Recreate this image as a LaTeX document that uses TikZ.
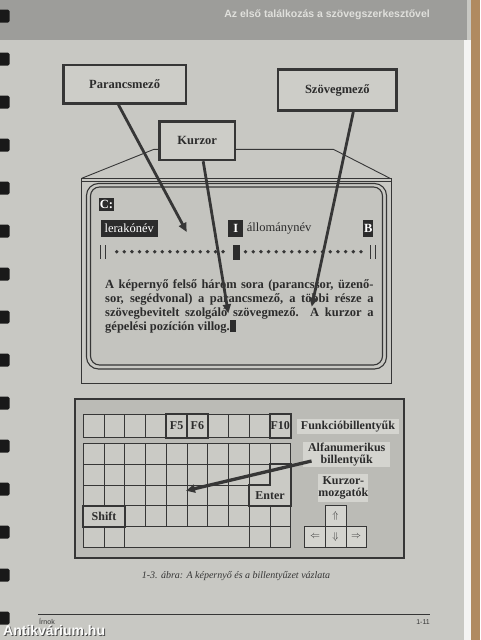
\documentclass[tikz,border=0pt]{standalone}
\usepackage{fontspec}
\setmainfont{Liberation Serif}
\newfontfamily\hdrfont{Liberation Sans}
\usetikzlibrary{arrows.meta}
\definecolor{pagec}{HTML}{C8C8C3}
\definecolor{bandc}{HTML}{9D9D9A}
\definecolor{boxc}{HTML}{CDCDC8}
\definecolor{inkc}{HTML}{363636}
\definecolor{facec}{HTML}{C9C9C4}
\definecolor{screenc}{HTML}{C4C4BF}
\definecolor{panelc}{HTML}{BBBBB6}
\definecolor{cellc}{HTML}{CACAC5}
\definecolor{lblc}{HTML}{D4D4CF}
\definecolor{darkc}{HTML}{2C2C2C}
\definecolor{woodc}{HTML}{B08A60}
\definecolor{hdrtxt}{HTML}{E0E0DC}
\begin{document}
\begin{tikzpicture}[x=1pt,y=-1pt,
  labelbox/.style={draw=inkc, line width=2.6pt, fill=boxc, inner sep=0pt,
    font=\bfseries\fontsize{12.5}{14}\selectfont, text=darkc},
  pointer/.style={draw=inkc, line width=2.8pt, -{Triangle[length=9pt,width=8pt]}},
  invbox/.style={fill=darkc, text=white, inner sep=0.5pt, font=\fontsize{12.5}{14}\selectfont},
  cell/.style={draw=inkc, line width=0.7pt, fill=cellc},
  keythick/.style={draw=inkc, line width=2pt, fill=cellc, inner sep=0pt,
    minimum width=20.74pt, font=\bfseries\fontsize{12}{14}\selectfont, text=darkc},
  kblabel/.style={fill=lblc, inner sep=0pt, font=\bfseries\fontsize{12}{11.8}\selectfont,
    text=darkc, align=center},
  arrowkey/.style={draw=inkc, line width=0.6pt, fill=lblc, inner sep=0pt,
    minimum width=20.7pt, minimum height=20.7pt, text=inkc}]
\useasboundingbox (0,0) rectangle (480,640);
\fill[pagec] (0,0) rectangle (480,640);
% header band
\fill[bandc] (0,0) rectangle (467,40);
\node[anchor=east, inner sep=0pt, text=hdrtxt, font=\hdrfont\bfseries\fontsize{10.5}{12}\selectfont]
  (hdr) at (430,14.5) {Az első találkozás a szövegszerkesztővel};
% right edge
\fill[white!80!pagec] (464,40) rectangle (471,640);
\fill[woodc] (471,0) rectangle (480,640);
% spiral holes
\foreach \k in {0,...,14} {
  \fill[black!90, rounded corners=1.5pt] (-2,{16+43*\k-6.5}) rectangle (9.5,{16+43*\k+6.5});
}
% monitor
\draw[inkc, line width=0.9pt] (81.7,178.3) -- (154,149.3) -- (333.3,149.3) -- (390,178.3);
\draw[inkc, line width=0.9pt, fill=facec] (81.7,178.3) rectangle (391.7,383.3);
\draw[inkc, line width=0.8pt] (82,181.7) -- (391.4,181.7);
\draw[inkc, line width=1.1pt, rounded corners=12pt] (86.5,183.5) rectangle (386.5,369);
\draw[inkc, line width=1.1pt, fill=screenc, rounded corners=9pt] (90.5,187) rectangle (382.5,365);
% screen contents
\node[invbox, font=\bfseries\fontsize{12.5}{14}\selectfont, minimum width=11.6pt, minimum height=12.4pt] (cdrive) at (106.5,204.5) {C:};
\node[invbox, minimum width=57pt, minimum height=16.7pt] (lerak) at (129.2,228.3) {lerakónév};
\node[invbox, font=\bfseries\fontsize{12.5}{14}\selectfont, minimum width=15pt, minimum height=16.7pt] (ibox) at (235.8,228.3) {I};
\node[anchor=west, inner sep=0pt, text=darkc, font=\fontsize{12.5}{14}\selectfont] (allom) at (246.7,228.8) {állománynév};
\node[invbox, font=\bfseries\fontsize{12.5}{14}\selectfont, minimum width=10pt, minimum height=16.7pt] (bbox) at (368.3,228.3) {B};
% ruler line
\draw[inkc, line width=0.5pt] (100.7,245) -- (100.7,259);
\draw[inkc, line width=1pt] (105.5,245) -- (105.5,259);
\draw[inkc, line width=1pt] (370.5,245) -- (370.5,259);
\draw[inkc, line width=0.5pt] (375.3,245) -- (375.3,259);
\foreach \d in {0,...,14} { \fill[inkc] ({116.7+\d*7.6},251.7) circle (1.9pt); }
\foreach \d in {0,...,15} { \fill[inkc] ({245.5+\d*7.7},251.7) circle (1.9pt); }
\fill[darkc] (233.3,244.5) rectangle (240.3,260);
% body text
\node[anchor=north west, inner sep=0pt, text width=268.3pt, align=justify, text=darkc,
  font=\bfseries\fontsize{12.5}{13.9}\selectfont] (body) at (105,279.3)
  {A képernyő felső három sora (parancssor, üzenő-\linebreak
   sor, segédvonal) a parancsmező, a többi része a\linebreak
   szövegbevitelt szolgáló szövegmező. A kurzor a\linebreak
   gépelési pozíción villog.\textcolor{darkc}{\rule[-2pt]{6.5pt}{12pt}}};
% label boxes
\node[labelbox, minimum width=122.7pt, minimum height=38.3pt] (pm) at (124.6,84.2) {Parancsmező};
\node[labelbox, minimum width=118.7pt, minimum height=41.4pt] (sz) at (337.3,90) {Szövegmező};
\node[labelbox, minimum width=75.7pt, minimum height=38.3pt] (ku) at (197.2,140.8) {Kurzor};
\coordinate (pmtip) at (186.7,232);
\coordinate (kutip) at (228.3,313.3);
\coordinate (sztip) at (311.7,306.7);
\draw[pointer] ([xshift=-6.2pt]pm.south) -- (pmtip);
\draw[pointer] ([xshift=6pt]ku.south) -- (kutip);
\draw[pointer] ([xshift=16pt]sz.south) -- (sztip);
% keyboard panel
\draw[inkc, line width=2pt, fill=panelc] (75,399) rectangle (404,558);
% function row
\foreach \i in {0,...,9} { \draw[cell] ({83.3+\i*20.74},414) rectangle ++(20.74,23.7); }
% main grid
\foreach \i in {0,...,9} { \draw[cell] ({83.3+\i*20.74},443.3) rectangle ++(20.74,20.8); }
\foreach \i in {0,...,8} { \draw[cell] ({83.3+\i*20.74},464.1) rectangle ++(20.74,20.8); }
\foreach \i in {0,...,7} { \draw[cell] ({83.3+\i*20.74},484.9) rectangle ++(20.74,20.8); }
\foreach \i in {2,...,9} { \draw[cell] ({83.3+\i*20.74},505.7) rectangle ++(20.74,20.8); }
\foreach \i in {0,1,8,9} { \draw[cell] ({83.3+\i*20.74},526.5) rectangle ++(20.74,20.8); }
\draw[cell] (124.8,526.5) rectangle (249.2,547.3);
% special keys
\node[keythick, minimum height=23.7pt] (f5) at (176.6,425.85) {F5};
\node[keythick, minimum height=23.7pt] (f6) at (197.4,425.85) {F6};
\node[keythick, minimum height=23.7pt] (f10) at (280.3,425.85) {F10};
\node[keythick, minimum width=41.5pt, minimum height=20.8pt] (shift) at (104.05,516.1) {Shift};
\draw[inkc, line width=2pt, fill=cellc] (269.96,464.1) -- (290.7,464.1) -- (290.7,505.7)
  -- (249.2,505.7) -- (249.2,484.9) -- (269.96,484.9) -- cycle;
\node[inner sep=0pt, font=\bfseries\fontsize{12}{14}\selectfont, text=darkc] (enter) at (270,496) {Enter};
% keyboard labels
\node[kblabel, minimum width=102pt, minimum height=15pt] (fkeys) at (348,426.5) {Funkcióbillentyűk};
\node[kblabel, minimum width=86.7pt, minimum height=25pt] (alfa) at (346.7,454.2) {Alfanumerikus\\billentyűk};
\node[kblabel, minimum width=50pt, minimum height=28pt] (kurz) at (343.3,487.5) {Kurzor-\\mozgatók};
\node[arrowkey] (kup) at (335.5,516.1) {$\Uparrow$};
\node[arrowkey] (kleft) at (315,536.8) {$\Leftarrow$};
\node[arrowkey] (kdown) at (335.5,536.8) {$\Downarrow$};
\node[arrowkey] (kright) at (356.2,536.8) {$\Rightarrow$};
\coordinate (kbtip) at (186,490.7);
\draw[pointer, line width=3.3pt] ([xshift=8.4pt,yshift=-6.8pt]alfa.west) -- (kbtip);
% caption
\node[inner sep=0pt, text=inkc, font=\itshape\fontsize{10}{12}\selectfont] (cap) at (236,576)
  {1-3. ábra: A képernyő és a billentyűzet vázlata};
% footer
\draw[inkc, line width=0.6pt] (38,614) -- (430,614);
\node[anchor=base west, inner sep=0pt, text=inkc, font=\hdrfont\fontsize{7}{8}\selectfont] (irnok) at (39,624) {Írnok};
\node[anchor=base east, inner sep=0pt, text=inkc, font=\hdrfont\fontsize{7}{8}\selectfont] (pgno) at (430,624) {1-11};
\node[anchor=base west, inner sep=0pt, text=black!70, font=\hdrfont\bfseries\fontsize{14}{16}\selectfont] (wmsh) at (4,636) {Antikvárium.hu};
\node[anchor=base west, inner sep=0pt, text=white!92!pagec, font=\hdrfont\bfseries\fontsize{14}{16}\selectfont] (wm) at (3,635) {Antikvárium.hu};
\end{tikzpicture}
\end{document}
